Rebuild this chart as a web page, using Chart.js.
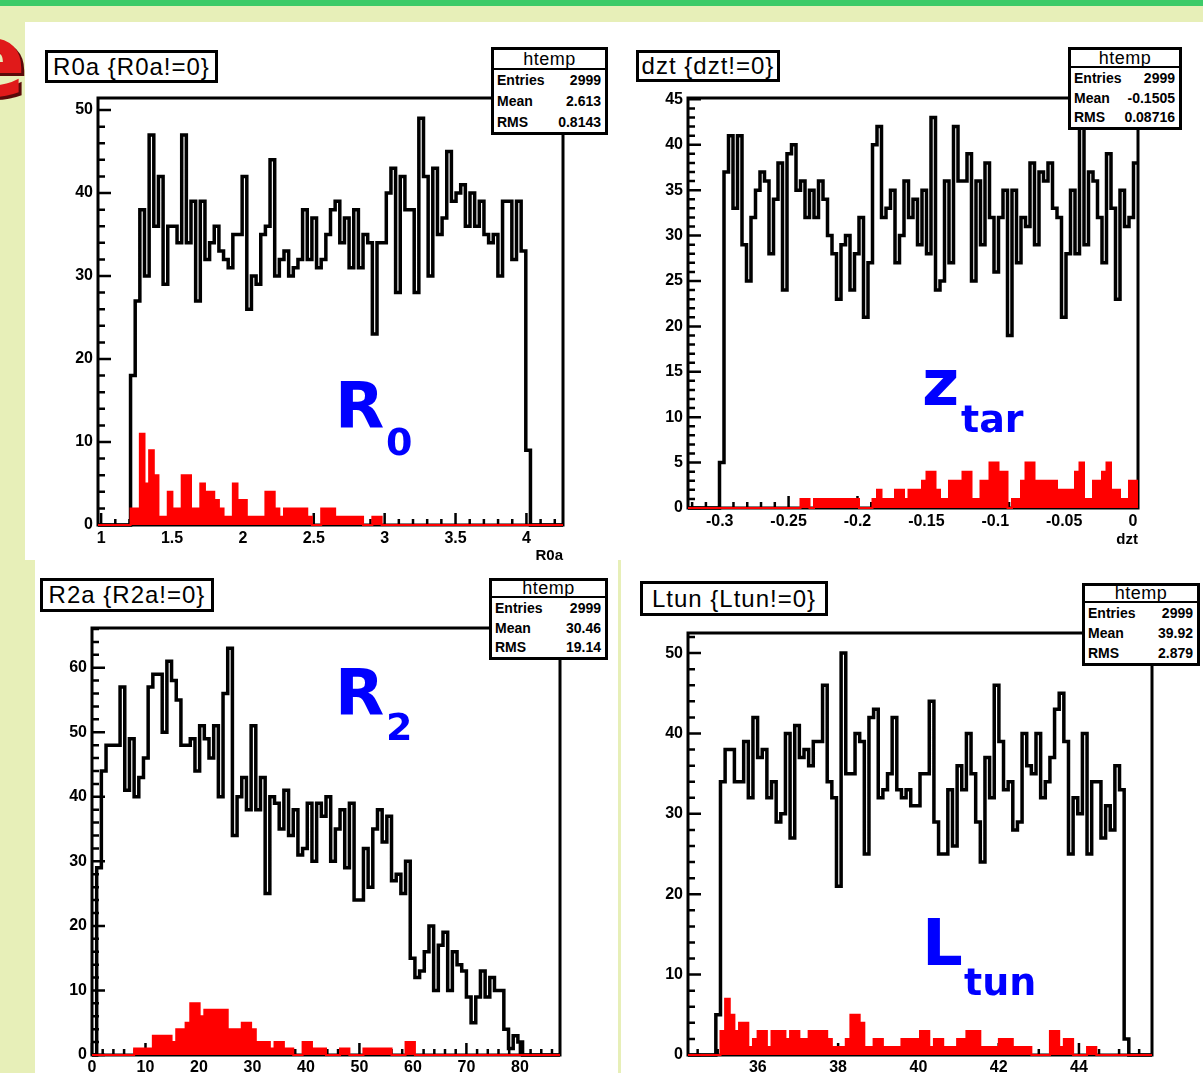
<!DOCTYPE html>
<html>
<head>
<meta charset="utf-8">
<script src="https://cdn.jsdelivr.net/npm/chart.js@4.4.1/dist/chart.umd.min.js"></script>
<style>
html,body{margin:0;padding:0;}
body{width:1203px;height:1073px;position:relative;overflow:hidden;background:#e7efb8;font-family:"Liberation Sans",Arial,sans-serif;}
#topbar{position:absolute;left:0;top:0;width:1203px;height:6px;background:#3ccb68;z-index:3;}
.white{position:absolute;background:#fff;z-index:0;}
#redE{position:absolute;left:-43px;top:10px;font-family:"DejaVu Sans";font-weight:bold;font-size:102px;line-height:1;color:#e01a1a;text-shadow:3px 3px 0 #5a0a0a;z-index:0;}
canvas{position:absolute;z-index:1;}
.tbox{position:absolute;z-index:2;background:#fff;border:3px solid #000;box-sizing:border-box;display:flex;align-items:center;justify-content:center;font-size:24px;letter-spacing:1px;white-space:nowrap;color:#000;}
.sbox{position:absolute;z-index:2;background:#fff;border:3px solid #000;box-sizing:border-box;display:flex;flex-direction:column;color:#000;}
.sbox .hd{border-bottom:2px solid #000;display:flex;align-items:center;justify-content:center;font-size:18px;letter-spacing:0.5px;}
.sbox .row{flex:1;display:flex;align-items:center;justify-content:space-between;font-weight:bold;font-size:14px;padding:0 4px 0 3px;}
.big{position:absolute;z-index:2;color:#0000ff;font-family:"DejaVu Sans";font-weight:bold;line-height:1;white-space:nowrap;}
</style>
</head>
<body>
<div id="topbar"></div>
<div id="redE">e</div>
<div class="white" style="left:25px;top:22px;width:1178px;height:538px;"></div>
<div class="white" style="left:35px;top:560px;width:583px;height:513px;"></div>
<div class="white" style="left:621px;top:560px;width:582px;height:513px;"></div>

<canvas id="c1" width="560" height="490" style="left:30px;top:78px;width:560px;height:490px;"></canvas>
<canvas id="c2" width="583" height="478" style="left:620px;top:78px;width:583px;height:478px;"></canvas>
<canvas id="c3" width="560" height="465" style="left:35px;top:608px;width:560px;height:465px;"></canvas>
<canvas id="c4" width="582" height="460" style="left:621px;top:613px;width:582px;height:460px;"></canvas>

<div class="tbox" style="left:45px;top:50px;width:173px;height:33px;">R0a {R0a!=0}</div>
<div class="tbox" style="left:636px;top:50px;width:144px;height:32px;">dzt {dzt!=0}</div>
<div class="tbox" style="left:40px;top:578px;width:174px;height:34px;">R2a {R2a!=0}</div>
<div class="tbox" style="left:640px;top:581px;width:188px;height:35px;">Ltun {Ltun!=0}</div>

<div class="sbox" id="s1" style="left:491px;top:47px;width:117px;height:88px;"></div>
<div class="sbox" id="s2" style="left:1068px;top:47px;width:114px;height:83px;"></div>
<div class="sbox" id="s3" style="left:489px;top:578px;width:119px;height:82px;"></div>
<div class="sbox" id="s4" style="left:1082px;top:583px;width:118px;height:83px;"></div>

<div class="big" style="left:335px;top:374px;font-size:64px;">R</div>
<div class="big" style="left:386px;top:423px;font-size:38px;">0</div>
<div class="big" style="left:922px;top:351px;font-size:64px;">z</div>
<div class="big" style="left:961px;top:400px;font-size:38px;">tar</div>
<div class="big" style="left:335px;top:661px;font-size:64px;">R</div>
<div class="big" style="left:386px;top:708px;font-size:38px;">2</div>
<div class="big" style="left:922px;top:911px;font-size:64px;">L</div>
<div class="big" style="left:964px;top:963px;font-size:38px;">tun</div>

<script>
// ---------------- data (100 bins per histogram) ----------------
const r0Range = [0.978, 4.258];
const r0Black = [0,0,0,0,0,0,0,18,27,38,
 30,47,36,42,29,36,36,34,47,34,
 39,27,39,32,34,36,33,32,31,35,
 35,42,26,30,29,35,36,44,30,32,
 33,30,31,32,38,32,37,31,32,35,
 38,39,34,37,31,38,31,35,34,23,
 34,34,40,43,28,42,38,38,28,49,
 42,30,43,35,37,45,39,40,41,36,
 40,36,39,35,34,35,30,39,39,32,
 39,33,9,0,0,0,0,0,0,0];
const r0Red = [0,0,0,0,0,0,0,2,2,11,
 5,9,6,1,1,4,2,2,6,6,
 2,2,5,4,4,3,2,1,1,5,
 3,3,1,1,1,1,4,4,2,1,
 2,2,2,2,2,1,0,0,2,2,
 2,1,1,1,1,1,1,0,0,1,
 1,0,0,0,0,0,0,0,0,0,
 0,0,0,0,0,0,0,0,0,0,
 0,0,0,0,0,0,0,0,0,0,
 0,0,0,0,0,0,0,0,0,0];
const r0XTicks = [1, 1.5, 2, 2.5, 3, 3.5, 4];
const r0XLabels = ['1','1.5','2','2.5','3','3.5','4'];
const r0YTicks = [0, 10, 20, 30, 40, 50];
const r0YMax = 51.45;
const r0Stats = ['2999', '2.613', '0.8143'];

const dztRange = [-0.323, 0.0036];
const dztBlack = [0,0,0,0,0,0,0,5,37,41,
 33,41,29,25,32,35,37,36,28,34,
 38,24,39,40,35,36,32,35,32,36,
 34,30,28,23,29,30,24,28,32,21,
 27,40,42,32,33,35,27,30,36,32,
 34,29,35,28,43,24,25,36,27,42,
 36,36,39,25,36,29,38,32,26,32,
 35,19,35,27,32,31,38,29,37,36,
 38,33,32,21,28,35,28,42,29,37,
 36,32,27,39,33,23,35,31,32,38];
const dztRed = [0,0,0,0,0,0,0,0,0,0,
 0,0,0,0,0,0,0,0,0,0,
 0,0,0,0,0,1,1,0,1,1,
 1,1,1,1,1,1,1,1,0,0,
 0,1,2,1,1,1,2,2,1,2,
 2,2,3,4,4,2,1,1,3,3,
 3,4,4,1,1,3,3,5,5,4,
 4,0,1,1,3,5,5,3,3,3,
 3,3,2,2,2,2,4,5,1,1,
 3,3,4,5,2,2,1,1,3,3];
const dztXTicks = [-0.3, -0.25, -0.2, -0.15, -0.1, -0.05, 0];
const dztXLabels = ['-0.3','-0.25','-0.2','-0.15','-0.1','-0.05','0'];
const dztYTicks = [0, 5, 10, 15, 20, 25, 30, 35, 40, 45];
const dztYMax = 45.15;
const dztStats = ['2999', '-0.1505', '0.08716'];

const r2Range = [0, 87.5];
const r2Black = [0,29,44,48,48,48,57,41,49,40,
 43,46,57,59,59,50,61,58,55,48,
 48,49,44,51,49,46,51,40,56,63,
 34,40,43,38,51,38,43,25,40,39,
 35,41,34,38,31,32,39,30,39,37,
 40,30,35,38,29,39,24,24,32,26,
 35,38,33,37,27,28,25,30,15,12,
 13,16,20,10,17,19,10,16,14,13,
 9,5,9,13,9,12,10,10,4,1,
 3,2,0,0,0,0,0,0,0,0];
const r2Red = [0,0,0,0,0,0,0,0,0,1,
 1,1,1,3,3,3,3,2,4,4,
 5,8,8,6,7,7,7,7,7,4,
 4,4,5,5,4,2,2,2,1,2,
 2,1,1,0,0,2,2,1,1,1,
 0,0,0,1,1,0,0,0,1,1,
 1,1,1,1,0,0,0,2,2,0,
 0,0,0,0,0,0,0,0,0,0,
 0,0,0,0,0,0,0,0,0,0,
 0,0,0,0,0,0,0,0,0,0];
const r2XTicks = [0, 10, 20, 30, 40, 50, 60, 70, 80];
const r2XLabels = ['0','10','20','30','40','50','60','70','80'];
const r2YTicks = [0, 10, 20, 30, 40, 50, 60];
const r2YMax = 66.15;
const r2Stats = ['2999', '30.46', '19.14'];

const ltunRange = [34.26, 45.82];
const ltunBlack = [0,0,0,0,0,0,5,34,38,38,
 34,34,39,32,42,37,38,32,34,29,
 30,40,27,41,37,38,36,39,39,46,
 34,32,21,50,35,35,40,39,25,42,
 43,32,33,35,42,33,32,33,31,31,
 35,35,44,29,25,25,33,26,36,33,
 40,35,29,24,37,32,46,39,33,34,
 28,29,40,36,35,40,32,34,37,43,
 45,39,25,32,30,40,25,34,34,27,
 31,28,36,33,2,0,0,0,0,0];
const ltunRed = [0,0,0,0,0,0,0,3,7,5,
 3,4,4,1,2,3,3,1,3,3,
 3,2,3,3,2,2,3,3,3,3,
 2,1,1,1,2,5,5,4,1,1,
 2,2,1,1,1,1,2,2,2,2,
 3,3,1,2,2,1,1,1,2,2,
 3,3,3,1,1,1,1,2,2,2,
 1,1,1,1,0,0,0,0,3,3,
 1,2,2,0,0,0,1,1,0,0,
 0,0,0,0,0,0,0,0,0,0];
const ltunXTicks = [36, 38, 40, 42, 44];
const ltunXLabels = ['36','38','40','42','44'];
const ltunYTicks = [0, 10, 20, 30, 40, 50];
const ltunYMax = 52.5;
const ltunStats = ['2999', '39.92', '2.879'];

const statNames = ['Entries', 'Mean', 'RMS'];

// ---------------- helpers ----------------
function histPoints(vals, range) {
  const w = (range[1] - range[0]) / vals.length;
  const pts = vals.map((v, i) => ({x: range[0] + i * w, y: v}));
  pts.push({x: range[1], y: vals[vals.length - 1]});
  return pts;
}

function minorValues(min, max, step) {
  const out = [];
  const k0 = Math.ceil(min / step - 1e-9), k1 = Math.floor(max / step + 1e-9);
  for (let k = k0; k <= k1; k++) out.push(+(k * step).toFixed(6));
  return out;
}

const rootAxes = {
  id: 'rootAxes',
  beforeDatasetsDraw(chart, args, opts) {
    const {ctx, chartArea: a, scales: {x, y}} = chart;
    ctx.save();
    ctx.strokeStyle = '#000';
    ctx.lineWidth = 2.5;
    ctx.beginPath();
    for (const v of minorValues(x.min, x.max, opts.xMinor)) {
      const px = x.getPixelForValue(v);
      const len = opts.xMajor.some(m => Math.abs(m - v) < 1e-6) ? 12 : 6;
      ctx.moveTo(px, a.bottom); ctx.lineTo(px, a.bottom - len);
    }
    for (const v of minorValues(y.min, y.max, opts.yMinor)) {
      const py = y.getPixelForValue(v);
      const len = opts.yMajor.some(m => Math.abs(m - v) < 1e-6) ? 13 : 7;
      ctx.moveTo(a.left, py); ctx.lineTo(a.left + len, py);
    }
    ctx.stroke();
    ctx.lineWidth = 3;
    ctx.strokeRect(a.left, a.top, a.right - a.left, a.bottom - a.top);
    ctx.restore();
  }
};

const tickFont = {family: 'Liberation Sans', size: 16, weight: 'bold'};

function makeChart(id, c) {
  return new Chart(document.getElementById(id), {
    type: 'line',
    data: {
      datasets: [
        {data: histPoints(c.red, c.range), borderColor: '#ff0000', backgroundColor: '#ff0000',
         fill: 'origin', borderWidth: 2, stepped: true, pointRadius: 0, clip: false},
        {data: histPoints(c.black, c.range), borderColor: '#000000', backgroundColor: '#000000',
         fill: false, borderWidth: 3.5, stepped: true, pointRadius: 0, clip: false}
      ]
    },
    options: {
      responsive: false, animation: false, devicePixelRatio: 1,
      layout: {padding: {top: c.padTop, right: c.padRight, left: 0, bottom: 0}},
      plugins: {
        legend: {display: false}, tooltip: {enabled: false},
        rootAxes: {xMinor: c.xMinor, yMinor: c.yMinor, xMajor: c.xTicks, yMajor: c.yTicks}
      },
      scales: {
        x: {
          type: 'linear', min: c.range[0], max: c.range[1],
          grid: {display: false, drawTicks: false}, border: {display: false},
          afterBuildTicks: s => { s.ticks = c.xTicks.map(v => ({value: v})); },
          afterFit: s => { s.height = c.xAxisH; },
          ticks: {autoSkip: false, maxRotation: 0, minRotation: 0, padding: c.xPad, color: '#000', font: tickFont,
                  callback: (v, i) => c.xLabels[i]},
          title: {display: !!c.xTitle, text: c.xTitle || '', align: 'end', color: '#000',
                  font: {family: 'Liberation Sans', size: 15, weight: 'bold'}, padding: {top: 0, bottom: c.titlePad || 3}}
        },
        y: {
          type: 'linear', min: 0, max: c.yMax,
          grid: {display: false, drawTicks: false}, border: {display: false},
          afterBuildTicks: s => { s.ticks = c.yTicks.map(v => ({value: v})); },
          afterFit: s => { s.width = c.yAxisW; },
          ticks: {autoSkip: false, padding: 5, color: '#000', font: tickFont, callback: v => String(v)}
        }
      }
    },
    plugins: [rootAxes]
  });
}

function fillStats(id, vals, hh) {
  const el = document.getElementById(id);
  let html = '<div class="hd" style="height:' + hh + 'px">htemp</div>';
  statNames.forEach((n, i) => { html += '<div class="row"><span>' + n + '</span><span>' + vals[i] + '</span></div>'; });
  el.innerHTML = html;
}

fillStats('s1', r0Stats, 18);
fillStats('s2', dztStats, 16);
fillStats('s3', r2Stats, 15);
fillStats('s4', ltunStats, 15);

makeChart('c1', {range: r0Range, black: r0Black, red: r0Red, xTicks: r0XTicks, xLabels: r0XLabels,
  yTicks: r0YTicks, yMax: r0YMax, xMinor: 0.1, yMinor: 2, padTop: 20, padRight: 27, yAxisW: 68, xAxisH: 43,
  xPad: 4, xTitle: 'R0a', titlePad: 3});
makeChart('c2', {range: dztRange, black: dztBlack, red: dztRed, xTicks: dztXTicks, xLabels: dztXLabels,
  yTicks: dztYTicks, yMax: dztYMax, xMinor: 0.01, yMinor: 1, padTop: 20, padRight: 65, yAxisW: 68, xAxisH: 48,
  xPad: 4, xTitle: 'dzt', titlePad: 7});
makeChart('c3', {range: r2Range, black: r2Black, red: r2Red, xTicks: r2XTicks, xLabels: r2XLabels,
  yTicks: r2YTicks, yMax: r2YMax, xMinor: 2, yMinor: 2, padTop: 20, padRight: 35, yAxisW: 57, xAxisH: 18,
  xPad: 3});
makeChart('c4', {range: ltunRange, black: ltunBlack, red: ltunRed, xTicks: ltunXTicks, xLabels: ltunXLabels,
  yTicks: ltunYTicks, yMax: ltunYMax, xMinor: 0.5, yMinor: 2, padTop: 20, padRight: 51, yAxisW: 67, xAxisH: 18,
  xPad: 3});
</script>
</body>
</html>
